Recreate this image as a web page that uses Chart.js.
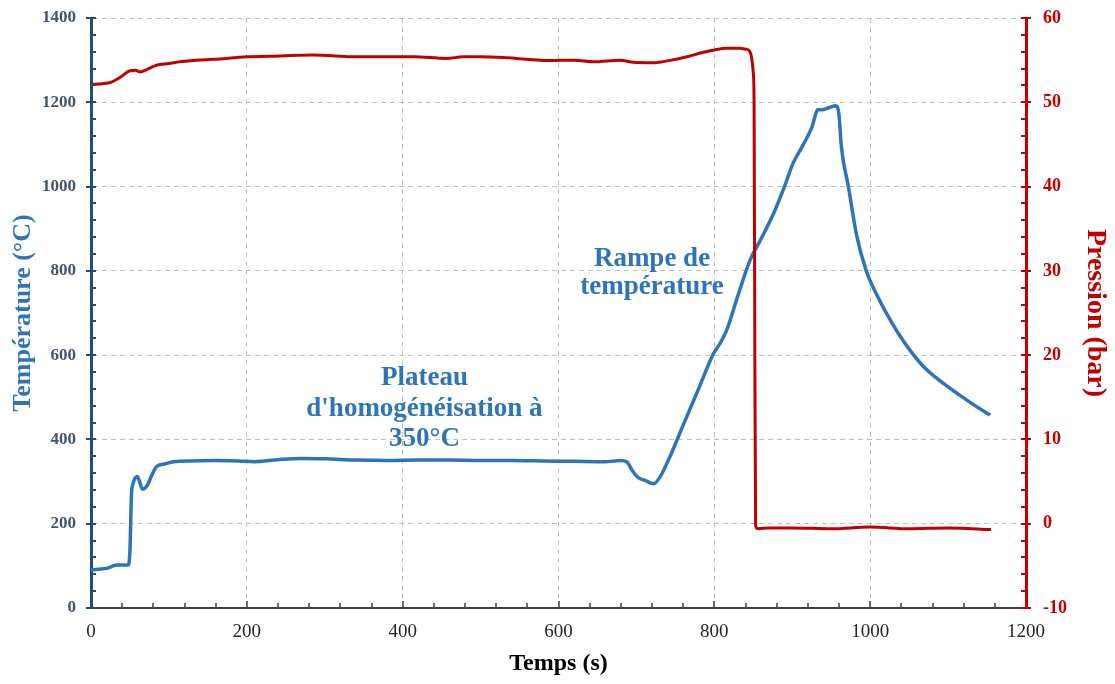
<!DOCTYPE html>
<html lang="fr">
<head>
<meta charset="utf-8">
<title>Température et pression</title>
<script src="https://cdn.jsdelivr.net/npm/chart.js@4.4.1/dist/chart.umd.min.js"></script>
<style>
  html, body { margin: 0; padding: 0; background: #fff; }
  #wrap { width: 1115px; height: 684px; }
</style>
</head>
<body>
<div id="wrap"><canvas id="graphe" width="1115" height="684"></canvas></div>
<script>
// Température (°C) relevée en fonction du temps (s)
const tempsTemp = [0, 10, 20, 33, 48, 50, 52, 54, 56.5, 59.5, 62, 66, 72, 78, 84, 95, 106, 130, 160, 190, 210, 240, 270, 300, 340, 380, 420, 460, 500, 540, 580, 620, 660, 680, 688, 695, 702, 712, 722, 730, 743, 760, 780, 799, 808, 816, 830, 846, 858, 876, 890, 901, 914, 925, 933, 938, 947, 956, 960, 963, 972, 983, 995, 1008, 1021, 1035, 1051, 1070, 1094, 1115, 1133, 1154];
const temperature = [90, 92, 94, 102, 102, 138, 272, 295, 308, 312, 302, 282, 290, 315, 335, 342, 347, 349, 350, 349, 347, 352, 355, 354, 351, 350, 351, 351, 350, 350, 349, 348, 347, 350, 346, 325, 310, 302, 295, 310, 359, 434, 521, 604, 630, 660, 740, 826, 869, 936, 1000, 1055, 1099, 1140, 1182, 1182, 1187, 1192, 1170, 1095, 1000, 881, 800, 745, 699, 655, 612, 570, 533, 505, 482, 458];

// Pression (bar) relevée en fonction du temps (s)
const tempsPression = [0, 15, 26, 38, 50, 57, 63, 72, 84, 100, 114, 135, 157, 200, 243, 285, 341, 414, 456, 478, 499, 530, 559, 589, 620, 645, 679, 696, 722, 745, 765, 785, 800, 816, 833, 840, 845, 848, 850, 851, 852, 853, 856, 870, 900, 950, 1000, 1050, 1100, 1155];
const pression = [52.1, 52.2, 52.4, 53.0, 53.75, 53.8, 53.6, 53.9, 54.4, 54.6, 54.8, 55.0, 55.1, 55.4, 55.5, 55.6, 55.4, 55.4, 55.2, 55.4, 55.4, 55.3, 55.1, 54.95, 55.0, 54.8, 55.0, 54.75, 54.7, 55.0, 55.4, 55.9, 56.2, 56.4, 56.4, 56.3, 56.1, 55.2, 53.5, 50.0, 20, -0.2, -0.6, -0.5, -0.5, -0.6, -0.4, -0.6, -0.5, -0.7];

// Textes posés sur le graphique (position en unités des axes)
const annotations = [
  { t: 428, temp: 529, pas: 30.5, lignes: ['Plateau', "d'homogénéisation à", '350°C'] },
  { t: 720, temp: 812, pas: 28.5, lignes: ['Rampe de', 'température'] }
];

const BLEU = '#2E75B6';
const ROUGE = '#C00000';
const POLICE = '"Liberation Serif", "Times New Roman", serif';

function points(xs, ys) {
  return xs.map((v, i) => ({ x: v, y: ys[i] }));
}

// pas de séparateur de milliers
const sansSeparateur = (v) => String(v);

// largeur fixe des axes verticaux, sans marge ajoutée en haut/bas
function axeVertical(largeur) {
  return (s) => {
    s.width = largeur;
    s.paddingTop = 0;
    s.paddingBottom = 0;
  };
}

// Graduations principales et secondaires dessinées sur les axes
const graduations = {
  id: 'graduations',
  afterDatasetsDraw(chart) {
    const ctx = chart.ctx;
    const { x, y, y1 } = chart.scales;
    ctx.save();
    ctx.lineWidth = 2;

    ctx.strokeStyle = '#1F4E79';
    for (let v = 0; v <= 1400; v += 40) {
      const py = Math.round(y.getPixelForValue(v));
      const grand = v % 200 === 0;
      ctx.beginPath();
      ctx.moveTo(x.left - (grand ? 5 : 0), py);
      ctx.lineTo(x.left + 5, py);
      ctx.stroke();
    }

    ctx.strokeStyle = ROUGE;
    for (let v = -10; v <= 60; v += 2) {
      const py = Math.round(y1.getPixelForValue(v));
      const grand = v % 10 === 0;
      ctx.beginPath();
      ctx.moveTo(x.right - 5, py);
      ctx.lineTo(x.right + (grand ? 5 : 0), py);
      ctx.stroke();
    }

    ctx.strokeStyle = '#404040';
    ctx.lineWidth = 1.5;
    for (let v = 40; v < 1200; v += 40) {
      const px = Math.round(x.getPixelForValue(v));
      const grand = v % 200 === 0;
      ctx.beginPath();
      ctx.moveTo(px, y.bottom);
      ctx.lineTo(px, y.bottom - (grand ? 7 : 5));
      ctx.stroke();
    }
    ctx.restore();
  }
};

// Textes explicatifs en bleu
const textes = {
  id: 'textes',
  afterDatasetsDraw(chart) {
    const ctx = chart.ctx;
    const { x, y } = chart.scales;
    ctx.save();
    ctx.fillStyle = BLEU;
    ctx.font = 'bold 27px ' + POLICE;
    ctx.textAlign = 'center';
    ctx.textBaseline = 'alphabetic';
    annotations.forEach(a => {
      const px = x.getPixelForValue(a.t);
      const py = y.getPixelForValue(a.temp);
      a.lignes.forEach((l, i) => ctx.fillText(l, px, py + i * a.pas));
    });
    ctx.restore();
  }
};

document.addEventListener('DOMContentLoaded', () => {
  const ctx = document.getElementById('graphe').getContext('2d');

  const config = {
    type: 'line',
    data: {
      datasets: [{
        label: 'Pression (bar)',
        data: points(tempsPression, pression),
        yAxisID: 'y1',
        borderColor: ROUGE,
        borderWidth: 3,
        pointRadius: 0,
        cubicInterpolationMode: 'monotone',
        fill: false
      }, {
        label: 'Température (°C)',
        data: points(tempsTemp, temperature),
        yAxisID: 'y',
        borderColor: BLEU,
        borderWidth: 3.5,
        pointRadius: 0,
        cubicInterpolationMode: 'monotone',
        fill: false
      }]
    },
    options: {
      responsive: false,
      animation: false,
      layout: { padding: { top: 18, left: 0, right: 0, bottom: 0 } },
      plugins: {
        legend: { display: false },
        tooltip: { enabled: false }
      },
      scales: {
        x: {
          type: 'linear',
          min: 0,
          max: 1200,
          afterFit: (s) => { s.height = 76; },
          ticks: {
            stepSize: 200,
            padding: 13,
            color: '#262626',
            callback: sansSeparateur,
            font: { family: POLICE, size: 19 }
          },
          grid: { color: '#BFBFBF', lineWidth: 1, drawTicks: false },
          border: { color: '#404040', width: 2, dash: [5, 4] },
          title: {
            display: true,
            text: 'Temps (s)',
            color: '#000',
            padding: { top: 0, bottom: 6 },
            font: { family: POLICE, size: 24, weight: 'bold' }
          }
        },
        y: {
          position: 'left',
          min: 0,
          max: 1400,
          afterFit: axeVertical(91),
          ticks: {
            stepSize: 200,
            padding: 15,
            color: '#44546A',
            callback: sansSeparateur,
            font: { family: POLICE, size: 17, weight: 'bold' }
          },
          grid: { color: '#BFBFBF', lineWidth: 1, drawTicks: false },
          border: { color: '#1F4E79', width: 3, dash: [5, 4] },
          title: {
            display: true,
            text: 'Température (°C)',
            color: BLEU,
            padding: { top: 8, bottom: 0 },
            font: { family: POLICE, size: 26, weight: 'bold' }
          }
        },
        y1: {
          position: 'right',
          min: -10,
          max: 60,
          afterFit: axeVertical(89),
          ticks: {
            stepSize: 10,
            padding: 17,
            color: ROUGE,
            callback: sansSeparateur,
            font: { family: POLICE, size: 18, weight: 'bold' }
          },
          grid: { drawOnChartArea: false, drawTicks: false },
          border: { color: ROUGE, width: 3 },
          title: {
            display: true,
            text: 'Pression (bar)',
            color: ROUGE,
            padding: { top: 3, bottom: 0 },
            font: { family: POLICE, size: 28, weight: 'bold' }
          }
        }
      }
    },
    plugins: [graduations, textes]
  };

  new Chart(ctx, config);
});
</script>
</body>
</html>
